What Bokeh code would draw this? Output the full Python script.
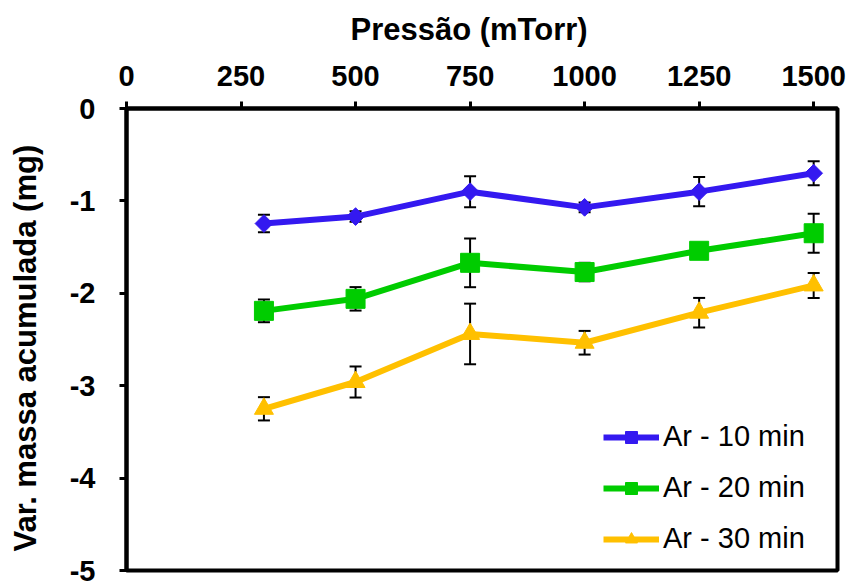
import math
from bokeh.plotting import figure
from bokeh.models import (ColumnDataSource, Whisker, TeeHead, FixedTicker, Legend,
                          LegendItem, Range1d)
from bokeh.embed import file_html
from bokeh.resources import INLINE

pressure = [300, 500, 750, 1000, 1250, 1500]
x_ticks = [0, 250, 500, 750, 1000, 1250, 1500]
y_ticks = [0, -1, -2, -3, -4, -5]
y_tick_labels = ["0", "-1", "-2", "-3", "-4", "-5"]

ar10 = [-1.245, -1.17, -0.90, -1.07, -0.90, -0.70]
ar10_err = [0.094, 0.057, 0.168, 0.053, 0.159, 0.13]
ar20 = [-2.19, -2.06, -1.67, -1.77, -1.54, -1.35]
ar20_err = [0.123, 0.127, 0.264, 0.10, 0.05, 0.21]
ar30 = [-3.25, -2.96, -2.44, -2.535, -2.21, -1.915]
ar30_err = [0.126, 0.168, 0.328, 0.128, 0.16, 0.135]

series = [
    ("Ar - 10 min", ar10, ar10_err, "#3419F0", "square", 12.5, math.pi / 4),
    ("Ar - 20 min", ar20, ar20_err, "#00CC00", "square", 19, 0.0),
    ("Ar - 30 min", ar30, ar30_err, "#FFC000", "triangle", 19, 0.0),
]

FONT = "Liberation Sans"
NB = "\u00a0"

p = figure(width=853, height=586, output_backend="svg", toolbar_location=None,
           x_axis_location="above",
           x_range=Range1d(0, 1552), y_range=Range1d(-5, 0),
           min_border_left=126, min_border_right=16, min_border_top=108,
           min_border_bottom=16)
p.background_fill_color = "white"
p.border_fill_color = "white"
p.outline_line_color = "black"
p.outline_line_width = 4
p.grid.visible = False

for ax, ticks in ((p.xaxis[0], x_ticks), (p.yaxis[0], y_ticks)):
    ax.ticker = FixedTicker(ticks=ticks)
    ax.axis_line_width = 4
    ax.axis_line_color = "black"
    ax.major_tick_line_width = 3
    ax.major_tick_line_color = "black"
    ax.major_tick_out = 7
    ax.major_tick_in = 0
    ax.minor_tick_line_color = None
    ax.major_label_text_font = FONT
    ax.major_label_text_font_style = "bold"
    ax.major_label_text_font_size = "29px"
    ax.major_label_text_color = "black"
    ax.axis_label_text_font = FONT
    ax.axis_label_text_font_style = "bold"
    ax.axis_label_text_font_size = "31px"
    ax.axis_label_text_color = "black"
p.xaxis[0].major_label_standoff = 16
p.yaxis[0].major_label_standoff = 24
p.yaxis[0].major_label_overrides = {t: s for t, s in zip(y_ticks, y_tick_labels)}

p.xaxis[0].axis_label = "Pressão (mTorr)" + NB * 3
p.xaxis[0].axis_label_standoff = 16
p.yaxis[0].axis_label = "Var. massa acumulada (mg)" + NB * 2
p.yaxis[0].axis_label_standoff = 24

items = []
for name, vals, errs, color, marker, size, ang in series:
    src = ColumnDataSource(dict(
        x=pressure, y=vals,
        upper=[v + e for v, e in zip(vals, errs)],
        lower=[v - e for v, e in zip(vals, errs)],
    ))
    w = Whisker(source=src, base="x", upper="upper", lower="lower",
                dimension="height", line_color="black", line_width=2,
                upper_head=TeeHead(size=12, line_width=2, line_color="black"),
                lower_head=TeeHead(size=12, line_width=2, line_color="black"),
                level="underlay")
    p.add_layout(w)
    r1 = p.line("x", "y", source=src, line_color=color, line_width=6)
    r2 = p.scatter("x", "y", source=src, marker=marker, size=size, angle=ang,
                   fill_color=color, line_color=color)
    items.append(LegendItem(label=name, renderers=[r1, r2]))

legend = Legend(items=items, location=(467, 5),
                glyph_width=56, glyph_height=30, label_height=30,
                spacing=18, padding=10, margin=0, label_standoff=4,
                label_text_font=FONT, label_text_font_size="29px",
                label_text_color="black",
                background_fill_alpha=0, border_line_alpha=0)
p.add_layout(legend)

open("out.html", "w").write(file_html(p, INLINE))
